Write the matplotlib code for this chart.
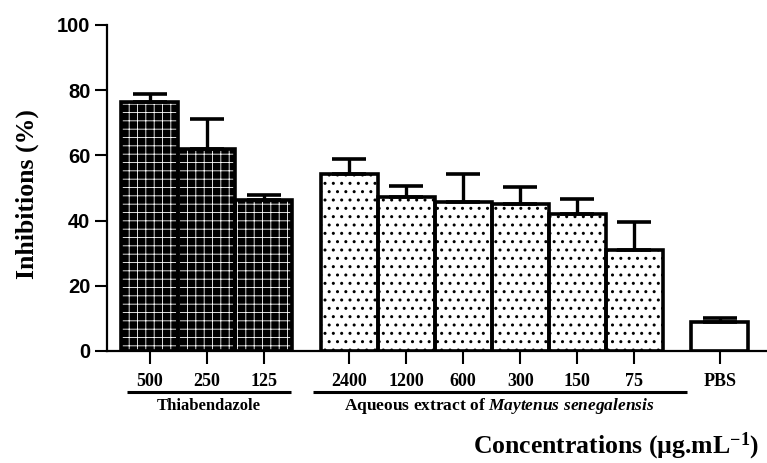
import matplotlib
matplotlib.use("Agg")
import matplotlib.pyplot as plt
import matplotlib.transforms as mtransforms

# values (mean and upper error, %)
thia_labels = ["500", "250", "125"]
thia_means = [76.5, 62.0, 46.2]
thia_errs = [2.3, 9.2, 1.7]

extract_labels = ["2400", "1200", "600", "300", "150", "75"]
extract_means = [54.4, 47.1, 45.6, 45.2, 41.9, 31.1]
extract_errs = [4.6, 3.4, 8.8, 5.0, 4.6, 8.6]

pbs_labels = ["PBS"]
pbs_means = [9.0]
pbs_errs = [1.0]

SERIF = "Liberation Serif"
SANS = "Liberation Sans"

plt.rcParams["mathtext.fontset"] = "custom"
plt.rcParams["mathtext.rm"] = "Liberation Serif:bold"
plt.rcParams["mathtext.bf"] = "Liberation Serif:bold"
plt.rcParams["mathtext.it"] = "Liberation Serif:italic:bold"

fig = plt.figure(figsize=(7.67, 4.63), dpi=100)
ax = fig.add_axes([107 / 767, 1 - 351 / 463, 1 - 107 / 767, (351 - 25) / 463])

thia_x = [0, 1, 2]
extract_x = [3.5, 4.5, 5.5, 6.5, 7.5, 8.5]
pbs_x = [10]

bar_lw = 2.6


def draw_group(x, means, errs, face, hatch_col, hatch, hatch_lw):
    plt.rcParams["hatch.linewidth"] = hatch_lw
    # fill + hatch layer
    ax.bar(x, means, width=1.0, color=face, edgecolor=hatch_col,
           hatch=hatch, linewidth=0, zorder=2)
    # outline layer
    ax.bar(x, means, width=1.0, fill=False, edgecolor="black",
           linewidth=bar_lw, zorder=3)
    ax.errorbar(x, means, yerr=[[0] * len(errs), errs], fmt="none",
                ecolor="black", elinewidth=2.4, capsize=12, capthick=2.6,
                zorder=4)


draw_group(thia_x, thia_means, thia_errs, "black", "white", "++", 0.6)
draw_group(extract_x, extract_means, extract_errs, "white", "black", "..", 1.0)
draw_group(pbs_x, pbs_means, pbs_errs, "white", "white", None, 1.0)

ax.set_xlim(-0.75, 10.83)
ax.set_ylim(0, 100)
ax.set_yticks([0, 20, 40, 60, 80, 100])

all_x = thia_x + extract_x + pbs_x
all_labels = thia_labels + extract_labels + pbs_labels
ax.set_xticks(all_x)
ax.set_xticklabels(all_labels, fontfamily=SERIF, fontweight="bold", fontsize=13)
for lab in ax.get_yticklabels():
    lab.set_fontfamily(SANS)
    lab.set_fontweight("bold")
    lab.set_fontsize(14.5)

ax.tick_params(axis="x", length=9.5, width=1.5, pad=6, colors="black")
ax.tick_params(axis="y", length=9, width=1.5, pad=3, colors="black")

ax.spines["top"].set_visible(False)
ax.spines["right"].set_visible(False)
ax.spines["left"].set_linewidth(1.6)
ax.spines["bottom"].set_linewidth(1.6)

# group brackets below the tick labels
trans = mtransforms.blended_transform_factory(ax.transData, ax.transAxes)
line_y = -0.127
text_y = -0.168

thia_start, thia_end = thia_x[0] - 0.40, thia_x[-1] + 0.47
ext_start, ext_end = extract_x[0] - 0.64, extract_x[-1] + 0.92

ax.plot([thia_start, thia_end], [line_y, line_y], color="black", lw=2.2,
        transform=trans, clip_on=False, solid_capstyle="butt")
ax.plot([ext_start, ext_end], [line_y, line_y], color="black", lw=2.2,
        transform=trans, clip_on=False, solid_capstyle="butt")

ax.text((thia_start + thia_end) / 2, text_y, "Thiabendazole", transform=trans,
        ha="center", va="center", fontfamily=SERIF, fontweight="bold",
        fontsize=12)
ax.text((ext_start + ext_end) / 2, text_y,
        r"Aqueous extract of $\mathit{Maytenus\ senegalensis}$",
        transform=trans, ha="center", va="center", fontfamily=SERIF,
        fontweight="bold", fontsize=12.5)

fig.text(27 / 767, 1 - 194 / 463, "Inhibitions (%)", rotation=90,
         ha="center", va="center", fontfamily=SERIF, fontweight="bold",
         fontsize=18.5)
fig.text(473 / 767, 1 - 446 / 463,
         r"Concentrations (µg.mL$^{\mathrm{-1}}$)",
         ha="left", va="center", fontfamily=SERIF, fontweight="bold",
         fontsize=18.5)

fig.savefig("out.png", dpi=100)
